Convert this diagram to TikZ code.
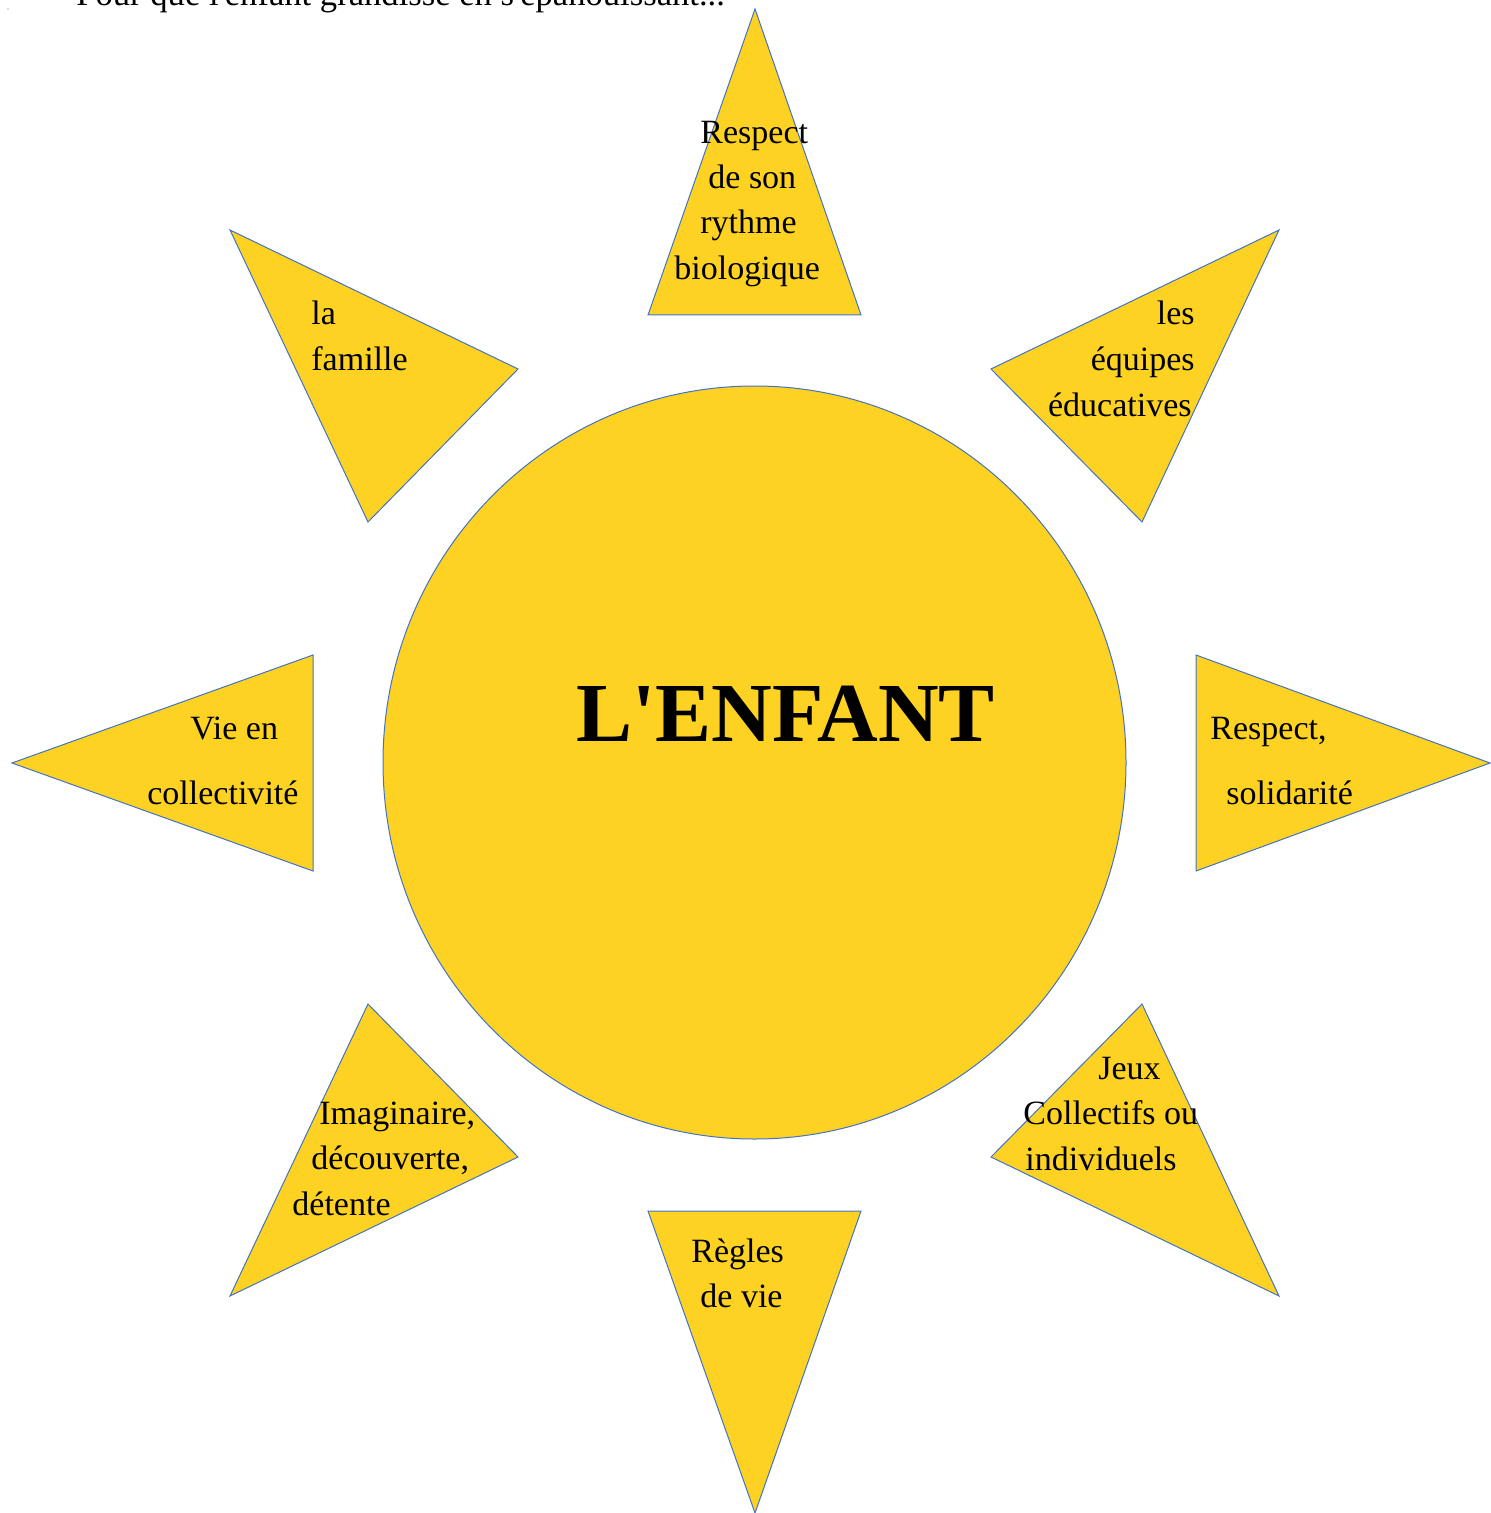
\documentclass[tikz,border=0pt]{standalone}
\usepackage{fontspec}
\setmainfont{Liberation Serif}
\newfontfamily\plainserif{Liberation Serif}
\definecolor{sunyellow}{RGB}{253,210,35}
\definecolor{rayblue}{RGB}{68,114,196}
\tikzset{
  ray/.style={fill=sunyellow, draw=rayblue, line width=0.5pt, line join=miter},
  lbl/.style={inner sep=0pt, font=\plainserif\fontsize{17}{20}\selectfont, anchor=base west},
}
\begin{document}
\begin{tikzpicture}[x=0.5pt, y=-0.5pt]
\useasboundingbox (0,0) rectangle (1490,1513);
% title
\node[lbl, font=\plainserif\fontsize{17.3}{20}\selectfont] (title) at (76,6) {Pour que l'enfant grandisse en s'épanouissant...};
\fill[rayblue] (8,9) circle (0.6);
% rays
\draw[ray] (755,9) -- (861,315) -- (648,315) -- cycle;
\draw[ray] (1279,230) -- (1142,522) -- (991,369) -- cycle;
\draw[ray] (1490,763) -- (1196,871) -- (1196,655) -- cycle;
\draw[ray] (1279,1296) -- (991,1157) -- (1142,1004) -- cycle;
\draw[ray] (755,1513) -- (648,1211) -- (861,1211) -- cycle;
\draw[ray] (230,1296) -- (368,1004) -- (518,1157) -- cycle;
\draw[ray] (12,763) -- (313,655) -- (313,871) -- cycle;
\draw[ray] (230,230) -- (518,369) -- (368,522) -- cycle;
% sun
\draw[ray] (754.5,762.5) ellipse [x radius=371.5, y radius=376.5];
\node[inner sep=0pt, anchor=base, font=\plainserif\fontsize{42}{48}\selectfont\bfseries] (enfant) at (785.5,741) {L'ENFANT};
% top
\node[lbl] (t1) at (700,144) {Respect};
\node[lbl] (t2) at (708,189) {de son};
\node[lbl] (t3) at (700,234) {rythme};
\node[lbl] (t4) at (674,280) {biologique};
% top-left
\node[lbl] (tl1) at (311,325) {la};
\node[lbl] (tl2) at (311,371) {famille};
% top-right
\node[lbl, anchor=base east] (tr1) at (1195,325) {les};
\node[lbl, anchor=base east] (tr2) at (1195,371) {équipes};
\node[lbl, anchor=base east] (tr3) at (1192,417) {éducatives};
% left
\node[lbl] (l1) at (190,739) {Vie en};
\node[lbl] (l2) at (147,804) {collectivité};
% right
\node[lbl] (r1) at (1210,739) {Respect,};
\node[lbl] (r2) at (1226,804) {solidarité};
% bottom-right
\node[lbl] (br1) at (1098,1079) {Jeux};
\node[lbl] (br2) at (1023,1124) {Collectifs ou};
\node[lbl] (br3) at (1025,1170) {individuels};
% bottom
\node[lbl] (b1) at (691,1262) {Règles};
\node[lbl] (b2) at (700,1307) {de vie};
% bottom-left
\node[lbl] (bl1) at (319,1124) {Imaginaire,};
\node[lbl] (bl2) at (311,1169) {découverte,};
\node[lbl] (bl3) at (292,1215) {détente};
\end{tikzpicture}
\end{document}
